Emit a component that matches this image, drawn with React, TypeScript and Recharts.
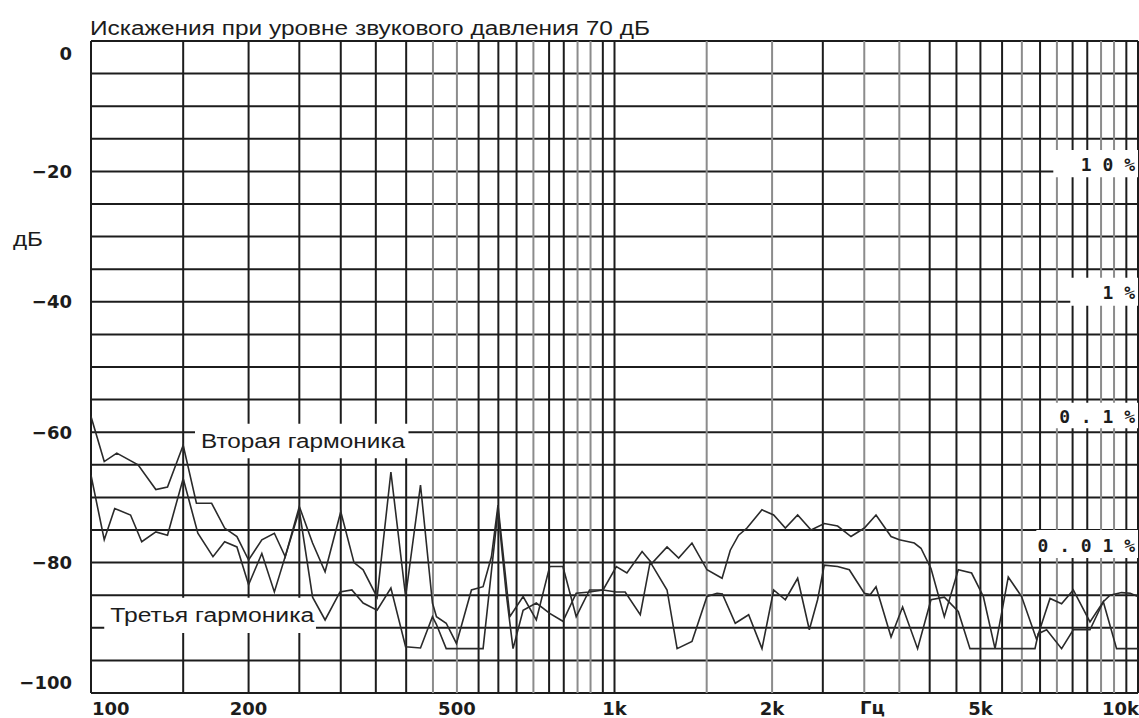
import React from "react";
import { LineChart, Line, XAxis, YAxis, CartesianGrid, ReferenceArea } from "recharts";

// grid and tick values
const gridFreqs = [
  100, 150, 200, 250, 300, 350, 400, 450, 500, 550, 600, 650, 700, 750, 800, 850, 900, 950, 1000,
  1500, 2000, 2500, 3000, 3500, 4000, 4500, 5000, 5500, 6000, 6500, 7000, 7500, 8000, 8500, 9000, 9500, 10000,
];
const lightFreqs = [450, 500, 700, 850, 900, 1500, 2000, 3000, 3500, 6000, 7000, 8500, 9000];
const freqLabels: Record<number, string> = {
  100: "100", 200: "200", 500: "500", 1000: "1k", 2000: "2k", 5000: "5k", 10000: "10k",
};
const dbTicks = [-100, -95, -90, -85, -80, -75, -70, -65, -60, -55, -50, -45, -40, -35, -30, -25, -20, -15, -10, -5, 0];

// second harmonic
const secondFreq = [
  100, 106, 112, 123, 133, 140, 150, 159, 170, 180, 190, 200, 212, 224, 235, 250, 265, 280, 300, 318,
  331, 352, 374, 399, 426, 449, 457, 477, 499, 533, 561, 582, 599, 631, 669, 709, 752, 797, 845, 896,
  951, 1008, 1056, 1129, 1179, 1260, 1326, 1406, 1502, 1605, 1664, 1726, 1791, 1913, 2014, 2120, 2238, 2374, 2516, 2668,
  2830, 3001, 3159, 3375, 3500, 3738, 3850, 4023, 4266, 4536, 4810, 5065, 5332, 5652, 5993, 6402, 6644, 6791, 7146, 7523,
  8096, 8585, 8842, 9303, 9665, 10000,
];
const secondDb = [
  -57.6, -64.5, -63.2, -65, -68.8, -68.4, -62, -70.9, -70.9, -74.7, -76, -79.6, -76.5, -75.5, -79.1, -71.4, -77, -81.4, -72.2, -80,
  -81.1, -85.3, -66.1, -85.2, -68.1, -86.2, -88.3, -89.3, -92.4, -84.2, -83.7, -79.1, -71.2, -88.3, -85.2, -88.8, -80.6, -80.6, -88.3, -84.2,
  -84.2, -80.6, -81.6, -78.3, -80.1, -77.6, -79.3, -77, -81.1, -82.4, -78.1, -75.8, -74.7, -71.9, -72.7, -74.7, -72.7, -75, -74, -74.4,
  -76, -74.7, -72.7, -76, -76.5, -77, -77.8, -80.9, -88.3, -81.1, -81.6, -85.2, -93.2, -82.2, -85.2, -91.8, -87.8, -85.5, -86.3, -84.2,
  -89.1, -86, -85, -84.6, -84.7, -85.2,
];

// third harmonic
const thirdFreq = [
  100, 106, 111, 119, 125, 133, 140, 150, 160, 171, 180, 190, 200, 212, 224, 250, 265, 280, 299, 315,
  331, 352, 374, 399, 426, 449, 457, 477, 561, 599, 621, 640, 669, 709, 752, 797, 845, 896, 951, 1008,
  1048, 1120, 1170, 1260, 1317, 1406, 1502, 1570, 1607, 1701, 1804, 1913, 2014, 2120, 2238, 2356, 2443, 2516, 2668, 2809,
  3001, 3081, 3159, 3375, 3551, 3793, 4023, 4266, 4536, 4776, 6356, 6449, 6690, 7146, 7523, 8096, 8585, 9101, 10000,
];
const thirdDb = [
  -66.6, -76.5, -71.7, -72.7, -76.8, -75.3, -75.8, -67.1, -75.5, -79.1, -76.8, -77.6, -83.4, -78.6, -84.5, -72, -85.3, -88.8, -84.5, -84.2,
  -86.2, -87.3, -83.9, -92.9, -93.1, -88.3, -89.5, -93.2, -93.2, -72, -84.7, -93.2, -87.3, -86.2, -87.8, -89, -84.7, -84.5, -84.2, -84.5,
  -84.5, -88, -79.9, -84.2, -93.2, -92.1, -85.2, -84.7, -84.8, -89.3, -88, -93.2, -84.2, -85.7, -82.4, -90.3, -85.7, -80.4, -80.6, -81.1,
  -84.7, -84.9, -83.7, -91.4, -86.8, -93.2, -85.7, -85.3, -87.5, -93.2, -93.2, -90.9, -90.3, -93.2, -90.3, -90.3, -86, -93.2, -93.2,
];

const secondData = secondFreq.map((f, i) => ({ f, db: secondDb[i] }));
const thirdData = thirdFreq.map((f, i) => ({ f, db: thirdDb[i] }));

const INK = "#1c1c1c";
const SANS = "'Liberation Sans', Arial, sans-serif";
const BOLD = "'DejaVu Sans', sans-serif";
const MONO = "'DejaVu Sans Mono', monospace";

function FreqTick(props: any) {
  const { x, payload } = props;
  const label = freqLabels[payload.value];
  if (!label) return <g />;
  let anchor = "middle";
  let tx = x;
  if (payload.value === 100) { anchor = "start"; tx = x + 1; }
  if (payload.value === 10000) { anchor = "end"; tx = x + 1; }
  return (
    <text x={tx} y={715} textAnchor={anchor} fontFamily={BOLD} fontWeight="bold" fontSize={18} fill={INK}>
      {label}
    </text>
  );
}

function DbTick(props: any) {
  const { y, payload } = props;
  const v = payload.value;
  if (v % 20 !== 0) return <g />;
  const shift = v === 0 ? 12 : v === -100 ? -11 : 0;
  return (
    <text x={72} y={y + shift} textAnchor="end" dominantBaseline="central" fontFamily={BOLD} fontWeight="bold" fontSize={18} fill={INK}>
      {v === 0 ? "0" : "\u2212" + Math.abs(v)}
    </text>
  );
}

function NameText(props: any) {
  const { viewBox, text } = props;
  return (
    <text x={viewBox.x + 6} y={viewBox.y + viewBox.height / 2} dominantBaseline="central"
      fontFamily={SANS} fontSize={20} fill={INK} textLength={204} lengthAdjust="spacingAndGlyphs">
      {text}
    </text>
  );
}

function PctText(props: any) {
  const { viewBox, text } = props;
  return (
    <text x={viewBox.x + viewBox.width - 3} y={viewBox.y + viewBox.height / 2 + 1} textAnchor="end" dominantBaseline="central"
      fontFamily={MONO} fontWeight="bold" fontSize={18} fill={INK}>
      {text}
    </text>
  );
}

export default function App() {
  return (
    <div style={{ position: "absolute", left: 0, top: 0, width: 1139, height: 718, background: "#fff" }}>
      <LineChart width={1139} height={718} margin={{ top: 41, right: 1, bottom: 0, left: 0 }}>
        <CartesianGrid
          horizontal={(p: any) => (
            <line key={p.key} x1={p.x1} y1={p.y1} x2={p.x2} y2={p.y2} stroke={INK} strokeWidth={2} />
          )}
          vertical={(p: any) => {
            const f = gridFreqs[p.index];
            const light = lightFreqs.includes(f);
            return (
              <line key={p.key} x1={p.x1} y1={p.y1} x2={p.x2} y2={p.y2}
                stroke={light ? "#8c8c8c" : INK} strokeWidth={2} />
            );
          }}
        />
        <XAxis dataKey="f" type="number" scale="log" domain={[100, 10000]} allowDataOverflow
          ticks={gridFreqs} interval={0} tick={<FreqTick />} tickLine={false} axisLine={false} height={25} />
        <YAxis type="number" domain={[-100, 0]} allowDataOverflow ticks={dbTicks} interval={0}
          tick={<DbTick />} tickLine={false} axisLine={false} width={91} />

        <ReferenceArea x1={158} x2={404} y1={-58.7} y2={-64} fill="#fff" fillOpacity={1} stroke="none"
          label={<NameText text="Вторая гармоника" />} />
        <ReferenceArea x1={106} x2={269} y1={-85.4} y2={-90.8} fill="#fff" fillOpacity={1} stroke="none"
          label={<NameText text="Третья гармоника" />} />
        <ReferenceArea x1={6890} x2={10000} y1={-16.7} y2={-20.9} fill="#fff" fillOpacity={1} stroke="none"
          label={<PctText text="1 0 %" />} />
        <ReferenceArea x1={7424} x2={10000} y1={-36.3} y2={-40.6} fill="#fff" fillOpacity={1} stroke="none"
          label={<PctText text="1 %" />} />
        <ReferenceArea x1={6596} x2={10000} y1={-55.5} y2={-59.4} fill="#fff" fillOpacity={1} stroke="none"
          label={<PctText text="0 . 1 %" />} />
        <ReferenceArea x1={6394} x2={10000} y1={-75} y2={-79.3} fill="#fff" fillOpacity={1} stroke="none"
          label={<PctText text="0 . 0 1 %" />} />

        <Line data={secondData} dataKey="db" type="linear" stroke="#2a2a2a" strokeWidth={1.6} dot={false} isAnimationActive={false} />
        <Line data={thirdData} dataKey="db" type="linear" stroke="#2a2a2a" strokeWidth={1.6} dot={false} isAnimationActive={false} />
      </LineChart>
      <svg width={1139} height={718} style={{ position: "absolute", left: 0, top: 0, pointerEvents: "none" }}>
        <text x={90} y={35} fontFamily={SANS} fontSize={20} fill={INK} textLength={560} lengthAdjust="spacingAndGlyphs">
          Искажения при уровне звукового давления 70 дБ
        </text>
        <text x={13} y={246} fontFamily={SANS} fontSize={20} fill={INK} textLength={30} lengthAdjust="spacingAndGlyphs">
          дБ
        </text>
        <text x={860} y={714} fontFamily={BOLD} fontWeight="bold" fontSize={18} fill={INK}>
          Гц
        </text>
      </svg>
    </div>
  );
}
